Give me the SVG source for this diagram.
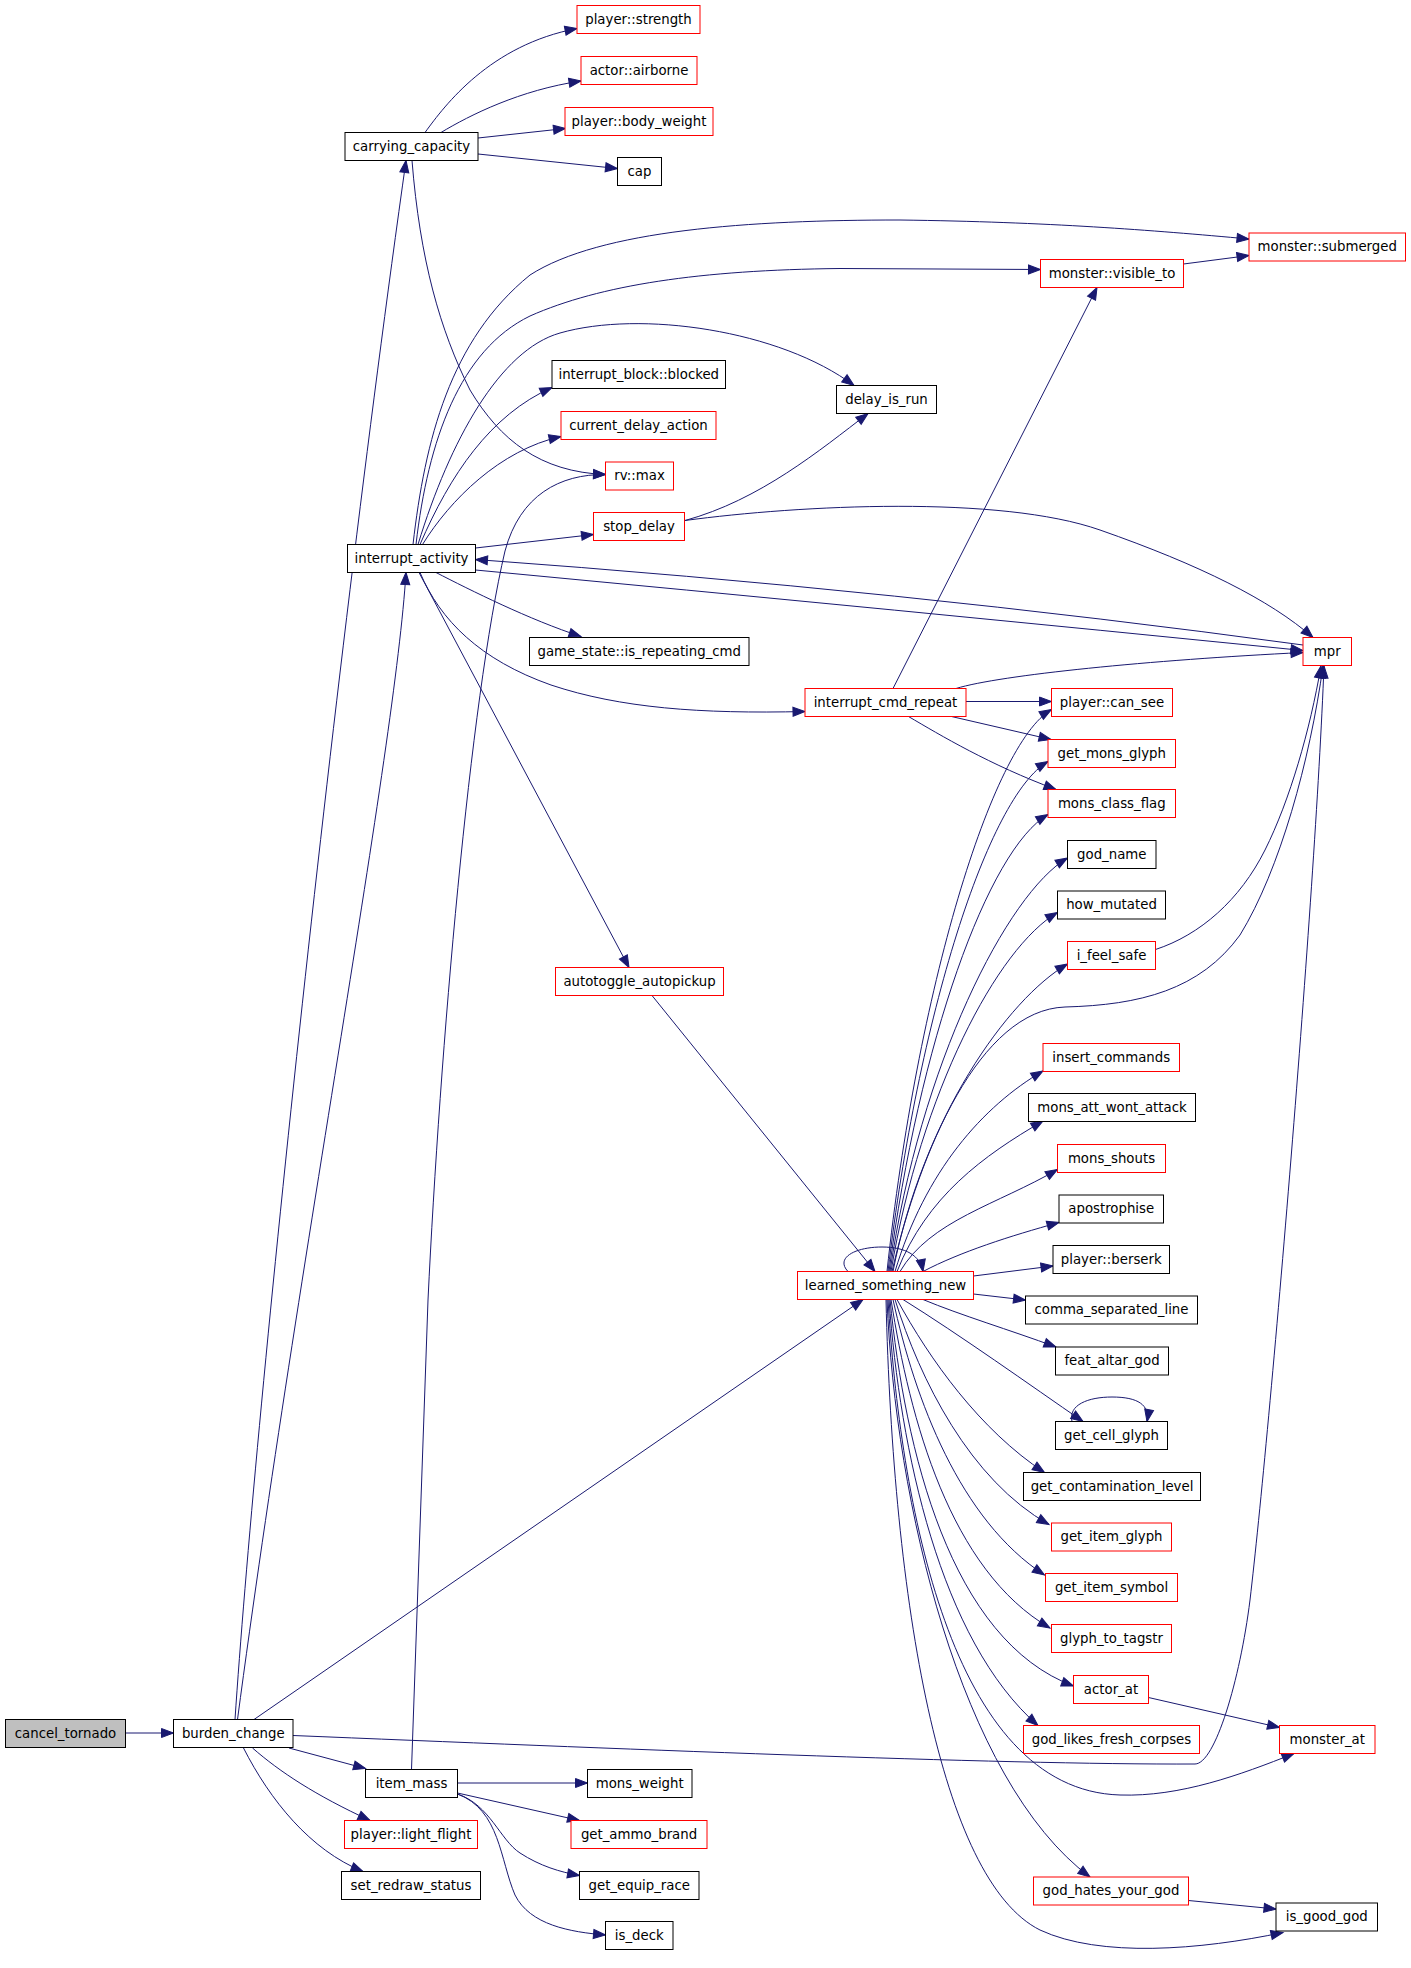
<svg xmlns="http://www.w3.org/2000/svg" width="1411" height="1968" viewBox="0 0 1411 1968">
<defs>
<style>
.b{fill:#ffffff;stroke:#000000;stroke-width:1}
.r{fill:#ffffff;stroke:#ff0000;stroke-width:1}
.g{fill:#bfbfbf;stroke:#000000;stroke-width:1}
text{font-family:"DejaVu Sans","Liberation Sans",sans-serif;font-size:13.3px;fill:#000000;text-anchor:middle}
#edges path{fill:none;stroke:#191970;stroke-width:1;marker-end:url(#a)}
</style>
<marker id="a" markerUnits="userSpaceOnUse" markerWidth="14" markerHeight="12" refX="12" refY="5.5" orient="auto" overflow="visible">
<path d="M0,1 L12,5.5 L0,10 z" fill="#191970" stroke="#191970" stroke-width="1"/>
</marker>
</defs>
<rect width="1411" height="1968" fill="#ffffff"/>
<g id="edges">
<path d="M125.5,1733 L173.5,1733"/>
<path d="M235,1719.5 C255,1420 330,700 406,160.5"/>
<path d="M237.5,1719.5 C300,1250 395,750 406,572.5"/>
<path d="M254,1719.5 L863,1299.5"/>
<path d="M293,1735.5 C600,1748 1000,1765 1195,1764 C1215,1764 1240,1680 1250,1600 C1270,1430 1315,900 1324,666"/>
<path d="M289,1748 L365.5,1768.5"/>
<path d="M252.5,1748 C280,1772 315,1795 370,1820.5"/>
<path d="M243.5,1748 C270,1800 310,1850 363,1871.5"/>
<path d="M457.5,1783 L587.5,1783"/>
<path d="M457.5,1793 L579.5,1820.5"/>
<path d="M457.5,1794 C490,1805 500,1840 520,1853 C540,1866 560,1872 579.5,1875.5"/>
<path d="M457.5,1794 C500,1810 500,1860 515,1895 C530,1925 570,1932 605.5,1935"/>
<path d="M411.5,1769.5 L428,1300 C440,1050 470,700 505,551 C520,495 560,474 605.5,474.5"/>
<path d="M425,132.5 C445,105 490,45 577,28.5"/>
<path d="M441,132.5 C470,115 520,90 581,81"/>
<path d="M478,138 L565.5,128.5"/>
<path d="M478,154 L617.5,168.5"/>
<path d="M412,160.5 C420,260 440,330 470,390 C500,440 540,472 605.5,474.5"/>
<path d="M413,544.5 C425,440 450,340 530,275 C600,230 750,220 900,220 C1050,222 1150,230 1249,239"/>
<path d="M416,544.5 C428,440 460,350 530,316 C600,285 700,270 840,268.5 L1040.5,269.5"/>
<path d="M418,544.5 C450,440 500,350 560,333 C640,310 780,330 854,385.5"/>
<path d="M420,544.5 C450,475 490,415 552,387.5"/>
<path d="M422.5,544.5 C450,500 500,450 561,436.5"/>
<path d="M475.5,548 L593.5,534.5"/>
<path d="M1303,645 Q900,590 475.5,559.5"/>
<path d="M475.5,570 Q900,610 1303,650.5"/>
<path d="M436,572.5 C470,590 530,620 581,636.5"/>
<path d="M420,572.5 C440,620 480,660 551,685 C620,708 700,714 805,711.5"/>
<path d="M419,572.5 L629,967.5"/>
<path d="M893,688.5 L1097,287.5"/>
<path d="M956,688.5 C1000,675 1150,660 1303,652.5"/>
<path d="M966,701.5 L1051.5,701.5"/>
<path d="M951.5,716.5 L1051,739.5"/>
<path d="M908.5,716.5 C940,735 990,765 1056,789.5"/>
<path d="M1183.5,264 L1249,255.5"/>
<path d="M685,520.5 C760,500 820,450 868,413.5"/>
<path d="M685,520.5 C800,505 1000,495 1100,530 C1200,565 1270,600 1313,637.5"/>
<path d="M652,995.5 L875,1271.5"/>
<path d="M848,1271.5 C835,1258 855,1247 882,1247 C905,1247 920,1255 923,1271.5"/>
<path d="M887,1271.5 C917,990.5 991.5,744.5 1051.5,709.5"/>
<path d="M888,1271.5 C918,1016.5 988,796.5 1048,761.5"/>
<path d="M889,1271.5 C919,1043 988,849.5 1048,814.5"/>
<path d="M890,1271.5 C920,1064.75 1007.5,893 1067.5,858"/>
<path d="M891,1271.5 C921,1092 997.5,947.5 1057.5,912.5"/>
<path d="M893,1271.5 C923,1117.75 1007.5,999 1067.5,964"/>
<path d="M895,1271.5 C925,1171.25 983,1106 1043,1071"/>
<path d="M897,1271.5 C927,1196.25 983,1156 1043,1121"/>
<path d="M900,1271.5 C930,1220.5 997.5,1204.5 1057.5,1169.5"/>
<path d="M892,1271.5 C920,1150 980,1010 1065,1007 C1140,1005 1200,990 1240,935 C1280,870 1310,760 1323,666"/>
<path d="M1155.5,949.5 C1200,935 1240,900 1265,850 C1290,800 1310,730 1321,666"/>
<path d="M923,1271.5 C960,1252 1010,1236 1059,1222.5"/>
<path d="M973.5,1276 L1053,1266"/>
<path d="M973.5,1294 L1025.5,1300"/>
<path d="M923,1299.5 C960,1315 1010,1330 1056,1347"/>
<path d="M903,1299.5 C960,1335 1030,1385 1083,1421.5"/>
<path d="M1072,1421.5 C1068,1405 1088,1397 1112,1397 C1138,1397 1150,1405 1147,1421.5"/>
<path d="M897,1299.5 C930,1360 980,1430 1044.5,1472.5"/>
<path d="M895,1299.5 C920,1380 970,1480 1049,1524.5"/>
<path d="M893,1299.5 C915,1400 960,1520 1044.5,1575"/>
<path d="M891,1299.5 C910,1420 950,1570 1050,1628"/>
<path d="M890,1299.5 C905,1450 950,1640 1073.5,1686"/>
<path d="M889,1299.5 C900,1450 940,1640 1038,1725.5"/>
<path d="M888,1299.5 C900,1500 950,1790 1120,1795 C1180,1797 1240,1775 1294,1753.5"/>
<path d="M887,1299.5 C895,1500 960,1780 1090,1877"/>
<path d="M886,1299.5 C893,1600 940,1880 1040,1930 C1100,1958 1200,1950 1283,1932.5"/>
<path d="M1148.5,1697.5 L1279.5,1727.5"/>
<path d="M1188.5,1900.5 L1276,1909"/>
</g>
<g id="n_cancel_tornado"><rect class="g" x="5.5" y="1719.5" width="120" height="28"/><text x="65.5" y="1737.5">cancel_tornado</text></g>
<g id="n_burden_change"><rect class="b" x="173.5" y="1719.5" width="119.5" height="28"/><text x="233.25" y="1737.5">burden_change</text></g>
<g id="n_carrying_capacity"><rect class="b" x="345" y="132.5" width="133" height="28"/><text x="411.5" y="150.5">carrying_capacity</text></g>
<g id="n_player_strength"><rect class="r" x="577" y="5.5" width="123" height="28"/><text x="638.5" y="23.5">player::strength</text></g>
<g id="n_actor_airborne"><rect class="r" x="581" y="56.5" width="116" height="28"/><text x="639" y="74.5">actor::airborne</text></g>
<g id="n_player_body_weight"><rect class="r" x="565" y="107.5" width="148" height="28"/><text x="639" y="125.5">player::body_weight</text></g>
<g id="n_cap"><rect class="b" x="617.5" y="157.5" width="44" height="28"/><text x="639.5" y="175.5">cap</text></g>
<g id="n_monster_submerged"><rect class="r" x="1249" y="233" width="156.5" height="28"/><text x="1327.25" y="251">monster::submerged</text></g>
<g id="n_monster_visible_to"><rect class="r" x="1040.5" y="259.5" width="143" height="28"/><text x="1112" y="277.5">monster::visible_to</text></g>
<g id="n_interrupt_block_blocked"><rect class="b" x="552" y="360.5" width="173.5" height="28"/><text x="638.75" y="378.5">interrupt_block::blocked</text></g>
<g id="n_delay_is_run"><rect class="b" x="836.5" y="385.5" width="100" height="28"/><text x="886.5" y="403.5">delay_is_run</text></g>
<g id="n_current_delay_action"><rect class="r" x="561" y="411.5" width="155" height="28"/><text x="638.5" y="429.5">current_delay_action</text></g>
<g id="n_rv_max"><rect class="r" x="605.5" y="462" width="68" height="28"/><text x="639.5" y="480">rv::max</text></g>
<g id="n_stop_delay"><rect class="r" x="593.5" y="512.5" width="91" height="28"/><text x="639" y="530.5">stop_delay</text></g>
<g id="n_interrupt_activity"><rect class="b" x="347.5" y="544.5" width="128" height="28"/><text x="411.5" y="562.5">interrupt_activity</text></g>
<g id="n_game_state_is_repeating_cmd"><rect class="b" x="529.5" y="637.5" width="219.5" height="28"/><text x="639.25" y="655.5">game_state::is_repeating_cmd</text></g>
<g id="n_mpr"><rect class="r" x="1303" y="637.5" width="48.5" height="28"/><text x="1327.25" y="655.5">mpr</text></g>
<g id="n_interrupt_cmd_repeat"><rect class="r" x="805" y="688.5" width="161" height="28"/><text x="885.5" y="706.5">interrupt_cmd_repeat</text></g>
<g id="n_player_can_see"><rect class="r" x="1051.5" y="688.5" width="121" height="28"/><text x="1112" y="706.5">player::can_see</text></g>
<g id="n_get_mons_glyph"><rect class="r" x="1048" y="739.5" width="127.5" height="28"/><text x="1111.75" y="757.5">get_mons_glyph</text></g>
<g id="n_mons_class_flag"><rect class="r" x="1048" y="789.5" width="127.5" height="28"/><text x="1111.75" y="807.5">mons_class_flag</text></g>
<g id="n_god_name"><rect class="b" x="1067.5" y="840.5" width="88.5" height="28"/><text x="1111.75" y="858.5">god_name</text></g>
<g id="n_how_mutated"><rect class="b" x="1057.5" y="891" width="108" height="28"/><text x="1111.5" y="909">how_mutated</text></g>
<g id="n_i_feel_safe"><rect class="r" x="1067.5" y="941.5" width="88" height="28"/><text x="1111.5" y="959.5">i_feel_safe</text></g>
<g id="n_autotoggle_autopickup"><rect class="r" x="555.5" y="967.5" width="168" height="28"/><text x="639.5" y="985.5">autotoggle_autopickup</text></g>
<g id="n_insert_commands"><rect class="r" x="1043" y="1043.5" width="136.5" height="28"/><text x="1111.25" y="1061.5">insert_commands</text></g>
<g id="n_mons_att_wont_attack"><rect class="b" x="1028.5" y="1093.5" width="167" height="28"/><text x="1112" y="1111.5">mons_att_wont_attack</text></g>
<g id="n_mons_shouts"><rect class="r" x="1057.5" y="1144.5" width="108" height="28"/><text x="1111.5" y="1162.5">mons_shouts</text></g>
<g id="n_apostrophise"><rect class="b" x="1059" y="1195" width="104.5" height="28"/><text x="1111.25" y="1213">apostrophise</text></g>
<g id="n_player_berserk"><rect class="b" x="1053" y="1245.5" width="116.5" height="28"/><text x="1111.25" y="1263.5">player::berserk</text></g>
<g id="n_learned_something_new"><rect class="r" x="797.5" y="1271.5" width="176" height="28"/><text x="885.5" y="1289.5">learned_something_new</text></g>
<g id="n_comma_separated_line"><rect class="b" x="1025.5" y="1296" width="172" height="28"/><text x="1111.5" y="1314">comma_separated_line</text></g>
<g id="n_feat_altar_god"><rect class="b" x="1055.5" y="1347" width="113" height="28"/><text x="1112" y="1365">feat_altar_god</text></g>
<g id="n_get_cell_glyph"><rect class="b" x="1055.5" y="1421.5" width="112" height="28"/><text x="1111.5" y="1439.5">get_cell_glyph</text></g>
<g id="n_get_contamination_level"><rect class="b" x="1023.5" y="1472.5" width="177" height="28"/><text x="1112" y="1490.5">get_contamination_level</text></g>
<g id="n_get_item_glyph"><rect class="r" x="1051.5" y="1523" width="120" height="28"/><text x="1111.5" y="1541">get_item_glyph</text></g>
<g id="n_get_item_symbol"><rect class="r" x="1045.5" y="1573.5" width="132" height="28"/><text x="1111.5" y="1591.5">get_item_symbol</text></g>
<g id="n_glyph_to_tagstr"><rect class="r" x="1051.5" y="1624.5" width="120" height="28"/><text x="1111.5" y="1642.5">glyph_to_tagstr</text></g>
<g id="n_actor_at"><rect class="r" x="1073.5" y="1675.5" width="75" height="28"/><text x="1111" y="1693.5">actor_at</text></g>
<g id="n_god_likes_fresh_corpses"><rect class="r" x="1023.5" y="1725.5" width="176" height="28"/><text x="1111.5" y="1743.5">god_likes_fresh_corpses</text></g>
<g id="n_monster_at"><rect class="r" x="1279.5" y="1725.5" width="95.5" height="28"/><text x="1327.25" y="1743.5">monster_at</text></g>
<g id="n_item_mass"><rect class="b" x="365.5" y="1769.5" width="92" height="28"/><text x="411.5" y="1787.5">item_mass</text></g>
<g id="n_mons_weight"><rect class="b" x="587.5" y="1769.5" width="104.5" height="28"/><text x="639.75" y="1787.5">mons_weight</text></g>
<g id="n_player_light_flight"><rect class="r" x="344.5" y="1820.5" width="133" height="28"/><text x="411" y="1838.5">player::light_flight</text></g>
<g id="n_get_ammo_brand"><rect class="r" x="571" y="1820.5" width="136" height="28"/><text x="639" y="1838.5">get_ammo_brand</text></g>
<g id="n_set_redraw_status"><rect class="b" x="341.5" y="1871.5" width="139" height="28"/><text x="411" y="1889.5">set_redraw_status</text></g>
<g id="n_get_equip_race"><rect class="b" x="579.5" y="1871.5" width="119.5" height="28"/><text x="639.25" y="1889.5">get_equip_race</text></g>
<g id="n_god_hates_your_god"><rect class="r" x="1033.5" y="1877" width="155" height="28"/><text x="1111" y="1895">god_hates_your_god</text></g>
<g id="n_is_good_god"><rect class="b" x="1276" y="1903" width="101.5" height="28"/><text x="1326.75" y="1921">is_good_god</text></g>
<g id="n_is_deck"><rect class="b" x="605.5" y="1921.5" width="67.5" height="28"/><text x="639.25" y="1939.5">is_deck</text></g>
</svg>
